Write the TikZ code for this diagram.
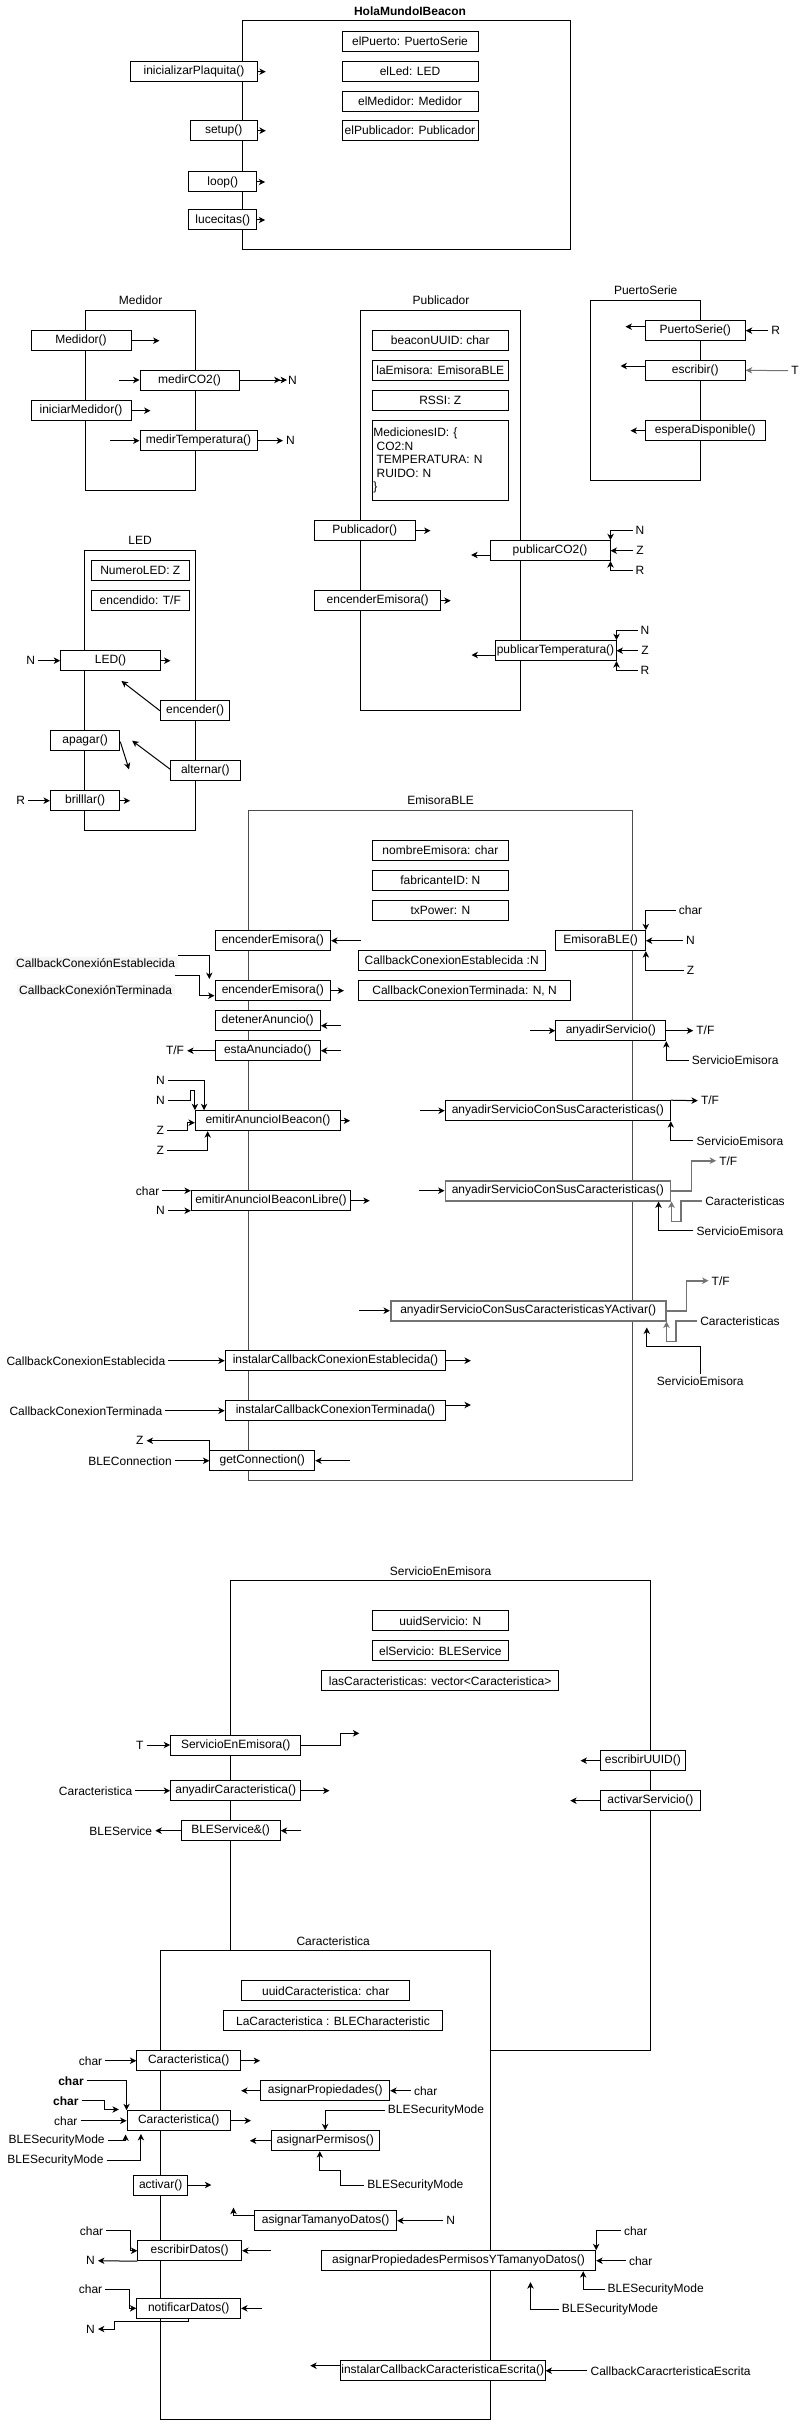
\documentclass[tikz,border=0pt]{standalone}
\usepackage{fontspec}
\setmainfont{Liberation Sans}
\usetikzlibrary{arrows.meta,calc}

\begin{document}
\begin{tikzpicture}[x=0.75pt,y=-0.75pt,line width=0.75pt,font=\fontsize{9}{10.8}\selectfont,
  >={Stealth[length=4.8pt,width=4.8pt,inset=1.4pt]},
  caja/.style={draw,fill=white,minimum height=15pt,inner xsep=0.5pt,inner ysep=0pt},
  ancho/.style={minimum width=#1*0.75pt},
  gris/.style={draw=black!55,line width=1.2pt},
  etiq/.style={inner xsep=2pt,inner ysep=1pt}]
\path[use as bounding box,fill=white] (0,0) rectangle (806,2422);

\node (tHola) at (410,11) {\bfseries HolaMundoIBeacon};
\draw (242,21) rectangle (570,250);
\node[caja,ancho=136] (aPuerto) at (410,41.7) {elPuerto: PuertoSerie};
\node[caja,ancho=136] (aLed) at (410,71.7) {elLed: LED};
\node[caja,ancho=136] (aMedidor) at (410,101.3) {elMedidor: Medidor};
\node[caja,ancho=136] (aPublicador) at (410,130.7) {elPublicador: Publicador};
\node[caja,ancho=126.6] (mInicializar) at (194,71.7) {inicializarPlaquita()};
\node[caja,ancho=67.3] (mSetup) at (223.7,130.7) {setup()};
\node[caja,ancho=67.7] (mLoop) at (222.8,182) {loop()};
\node[caja,ancho=67.7] (mLucecitas) at (222.8,220) {lucecitas()};
\draw[->] (mInicializar.east) -- ++(8,0);
\draw[->] (mSetup.east) -- ++(8,0);
\draw[->] (mLoop.east) -- ++(8,0);
\draw[->] (mLucecitas.east) -- ++(8,0);

\node (tMedidor) at (140.6,300.7) {Medidor};
\draw (85,310.7) rectangle (195.5,490);
\node[caja,ancho=100] (mMedidor) at (81,340.7) {Medidor()};
\node[caja,ancho=99] (mMedirCO2) at (189.5,380) {medirCO2()};
\node[caja,ancho=100] (mIniciar) at (81,410.7) {iniciarMedidor()};
\node[caja,ancho=117] (mMedirTemp) at (198.5,440.7) {medirTemperatura()};
\node[etiq,inner xsep=0.5pt] (lMedN1) at (292.5,380) {N};
\node[etiq] (lMedN2) at (290.5,440.7) {N};
\draw[->] (mMedidor.east) -- ++(28,0);
\draw[->] ($(mMedirCO2.west)+(-20.5,0)$) -- (mMedirCO2.west);
\draw[->>] (mMedirCO2.east) -- (lMedN1.west);
\draw[->] (mIniciar.east) -- ++(19,0);
\draw[->] ($(mMedirTemp.west)+(-29.5,0)$) -- (mMedirTemp.west);
\draw[->] (mMedirTemp.east) -- (lMedN2.west);

\node (tPublicador) at (441,300.7) {Publicador};
\draw (360.3,310.7) rectangle (520.3,710);
\node[caja,ancho=136] (aUUID) at (440.3,340.7) {beaconUUID: char};
\node[caja,ancho=136] (aEmisora) at (440.3,370.7) {laEmisora: EmisoraBLE};
\node[caja,ancho=136] (aRSSI) at (440.3,400.7) {RSSI: Z};
\node[caja,text width=100.5pt,inner xsep=0.75pt,minimum height=60pt,align=left,font=\fontsize{9}{10.1}\selectfont] (aMediciones) at (440.3,460.7) {MedicionesID: \{\\\hspace{2.5pt}CO2:N\\\hspace{2.5pt}TEMPERATURA: N\\\hspace{2.5pt}RUIDO: N\\\}};
\node[caja,ancho=100.7] (mPublicador) at (364.7,530.7) {Publicador()};
\node[caja,ancho=126] (mEncEmi) at (377.7,600.7) {encenderEmisora()};
\node[caja,ancho=120] (mPubCO2) at (550,550.7) {publicarCO2()};
\node[caja,ancho=121] (mPubTemp) at (555.5,650.7) {publicarTemperatura()};
\node[etiq] (lCO2N) at (640,530.7) {N};
\node[etiq] (lCO2Z) at (640,550.7) {Z};
\node[etiq] (lCO2R) at (640,570.7) {R};
\node[etiq] (lTempN) at (645,630.7) {N};
\node[etiq] (lTempZ) at (645,650.7) {Z};
\node[etiq] (lTempR) at (645,670.7) {R};
\draw[->] (mPublicador.east) -- ++(15,0);
\draw[->] (mEncEmi.east) -- ++(9.5,0);
\draw[->] ($(mPubCO2.west)+(0,4.3)$) -- ++(-18.3,0);
\draw[->] (lCO2N.west) -| (mPubCO2.north east);
\draw[->] (lCO2Z.west) -- (mPubCO2.east);
\draw[->] (lCO2R.west) -| (mPubCO2.south east);
\draw[->] ($(mPubTemp.west)+(0,4.3)$) -- ++(-23,0);
\draw[->] (lTempN.west) -| (mPubTemp.north east);
\draw[->] (lTempZ.west) -- (mPubTemp.east);
\draw[->] (lTempR.west) -| (mPubTemp.south east);

\node (tPuerto) at (645.7,290.7) {PuertoSerie};
\draw (590.3,300.7) rectangle (700.3,480.7);
\node[caja,ancho=100] (mPuerto) at (695.3,330.7) {PuertoSerie()};
\node[caja,ancho=100] (mEscribir) at (695.3,370.3) {escribir()};
\node[caja,ancho=120] (mEspera) at (705.3,430.7) {esperaDisponible()};
\node[etiq] (lPuertoR) at (775.7,330.7) {R};
\node[etiq] (lEscT) at (795,370.7) {T};
\draw[->] ($(mPuerto.west)+(0,-4)$) -- ++(-19.3,0);
\draw[->] (lPuertoR.west) -- (mPuerto.east);
\draw[->] ($(mEscribir.west)+(0,-4.3)$) -- ++(-24.3,0);
\draw[->,draw=black!55] (lEscT.west) -- (mEscribir.east);
\draw[->] (mEspera.west) -- ++(-14.3,0);

\node (tLED) at (140,540.7) {LED};
\draw (84.8,550.7) rectangle (195.4,830.7);
\node[caja,ancho=97.7] (aNumero) at (140.3,570.7) {NumeroLED: Z};
\node[caja,ancho=97.7] (aEncendido) at (140.3,600.7) {encendido: T/F};
\node[caja,ancho=99.7] (mLED) at (110.5,660.7) {LED()};
\node[caja,ancho=69.4] (mEncender) at (195.1,710.7) {encender()};
\node[caja,ancho=69.4] (mApagar) at (85.1,740.7) {apagar()};
\node[caja,ancho=69.3] (mAlternar) at (205.4,770.7) {alternar()};
\node[caja,ancho=69.4] (mBrillar) at (85.1,800.7) {brilllar()};
\node[etiq] (lLedN) at (30.8,660.7) {N};
\node[etiq] (lBrillarR) at (20.6,800.7) {R};
\draw[->] (lLedN.east) -- (mLED.west);
\draw[->] (mLED.east) -- ++(9.6,0);
\draw[->] (mEncender.west) -- ++(-38.4,-29.7);
\draw[->] ($(mApagar.east)+(0,1)$) -- ++(8.7,27.6);
\draw[->] ($(mAlternar.west)+(0,-1.4)$) -- ++(-38.1,-28.6);
\draw[->] (lBrillarR.east) -- (mBrillar.west);
\draw[->] (mBrillar.east) -- ++(9.8,0);

\node (tEmisora) at (440.6,800.7) {EmisoraBLE};
\draw[draw=black!70,line width=1pt] (248.3,810.7) rectangle (632.4,1480.7);
\node[caja,ancho=135.2] (aNombre) at (440.4,850.7) {nombreEmisora: char};
\node[caja,ancho=135.2] (aFabricante) at (440.4,880.7) {fabricanteID: N};
\node[caja,ancho=135.2] (aTxPower) at (440.4,910.7) {txPower: N};
\node[caja,ancho=186.6] (aCCE) at (451.7,960.7) {CallbackConexionEstablecida :N};
\node[caja,ancho=212.3] (aCCT) at (464.6,990.7) {CallbackConexionTerminada: N, N};
\node[caja,ancho=115.6] (mEncE1) at (272.8,940.7) {encenderEmisora()};
\node[caja,ancho=115.6] (mEncE2) at (272.8,990.7) {encenderEmisora()};
\node[etiq,fill=black!4] (lCCEst) at (95.6,962.7) {CallbackConexiónEstablecida};
\node[etiq,fill=black!4] (lCCTer) at (95.6,990) {CallbackConexiónTerminada};
\draw[->] ($(mEncE1.east)+(29.4,0)$) -- (mEncE1.east);
\draw[->] (mEncE2.east) -- ++(12.9,0);
\draw[->] ($(lCCEst.east)+(0,-7)$) -| ($(mEncE2.north west)+(-5.2,-1.2)$);
\draw[->] ($(lCCTer.east)+(0,-15)$) -| ($(mEncE2.west)+(-15.5,5)$) -- ($(mEncE2.west)+(0,5)$);
\node[caja,ancho=105.3] (mDetener) at (267.7,1020.7) {detenerAnuncio()};
\node[caja,ancho=105.3] (mEsta) at (267.7,1050.7) {estaAnunciado()};
\node[etiq] (lEstaTF) at (175,1050.7) {T/F};
\draw[->] ($(mDetener.east)+(20,5)$) -- ($(mDetener.east)+(0,5)$);
\draw[->] ($(mEsta.east)+(20,0)$) -- (mEsta.east);
\draw[->] (mEsta.west) -- (lEstaTF.east);
\node[caja,ancho=89.5] (mEmisoraBLE) at (600.6,940.7) {EmisoraBLE()};
\node[etiq] (lEmiChar) at (690.5,910.7) {char};
\node[etiq] (lEmiN) at (690.5,940.7) {N};
\node[etiq] (lEmiZ) at (690.5,970.7) {Z};
\draw[->] (lEmiChar.west) -| (mEmisoraBLE.north east);
\draw[->] (lEmiN.west) -- (mEmisoraBLE.east);
\draw[->] (lEmiZ.west) -| (mEmisoraBLE.south east);
\node[caja,ancho=110] (mAnyadir) at (610.8,1030.7) {anyadirServicio()};
\node[etiq] (lAnyTF) at (705.4,1030.7) {T/F};
\node[etiq] (lAnyServ) at (735.2,1060.7) {ServicioEmisora};
\draw[->] ($(mAnyadir.west)+(-25.2,0)$) -- (mAnyadir.west);
\draw[->] (mAnyadir.east) -- (lAnyTF.west);
\draw[->] (lAnyServ.west) -| (mAnyadir.south east);
\node[caja,ancho=145] (mEmitir) at (267.9,1120.7) {emitirAnuncioIBeacon()};
\node[etiq] (lEmiN1) at (160.4,1080.7) {N};
\node[etiq] (lEmiN2) at (160.4,1100.7) {N};
\node[etiq] (lEmiZ1) at (160.4,1130.7) {Z};
\node[etiq] (lEmiZ2) at (160.4,1150.7) {Z};
\draw[->] (mEmitir.east) -- ++(9.2,0);
\draw[->] (lEmiN1.east) -| ($(mEmitir.north west)+(9.2,0)$);
\draw[->] (lEmiN2.east) -| ($(mEmitir.north west)+(-4.1,-20)$) -| (mEmitir.north west);
\draw[->] (lEmiZ1.east) -| ($(mEmitir.west)+(-7,2)$) -- ($(mEmitir.west)+(0,2)$);
\draw[->] (lEmiZ2.east) -| ($(mEmitir.south west)+(12.8,0)$);
\node[caja,ancho=159.3] (mEmitirLibre) at (271,1200.7) {emitirAnuncioIBeaconLibre()};
\node[etiq] (lLibreChar) at (147.6,1190.7) {char};
\node[etiq] (lLibreN) at (160.4,1210.7) {N};
\draw[->] (mEmitirLibre.east) -- ++(18.6,0);
\draw[->] (lLibreChar.east) -- (lLibreChar.east -| mEmitirLibre.west);
\draw[->] (lLibreN.east) -- (lLibreN.east -| mEmitirLibre.west);
\node[caja,ancho=225] (mAnyCar1) at (557.8,1110.7) {anyadirServicioConSusCaracteristicas()};
\node[etiq] (lCar1TF) at (710,1100.7) {T/F};
\node[etiq] (lCar1Serv) at (740,1140.7) {ServicioEmisora};
\draw[->] ($(mAnyCar1.west)+(-25.3,0)$) -- (mAnyCar1.west);
\draw[->] (mAnyCar1.north east) -- (lCar1TF.west);
\draw[->] (lCar1Serv.west) -| (mAnyCar1.south east);
\node[caja,gris,ancho=225] (mAnyCar2) at (557.8,1190.7) {anyadirServicioConSusCaracteristicas()};
\node[etiq] (lCar2TF) at (728.3,1160.7) {T/F};
\node[etiq] (lCar2Car) at (745,1200.7) {Caracteristicas};
\node[etiq] (lCar2Serv) at (740,1230.7) {ServicioEmisora};
\draw[->] ($(mAnyCar2.west)+(-25.3,0)$) -- (mAnyCar2.west);
\draw[->,gris] (mAnyCar2.east) -| ($(mAnyCar2.east)+(20.4,-30)$) -- (lCar2TF.west);
\draw[->,gris] (lCar2Car.west) -| ($(mAnyCar2.south east)+(9.7,20)$) -| ($(mAnyCar2.south east)+(0.4,0)$);
\draw[->] (lCar2Serv.west) -| ($(mAnyCar2.south east)+(-12.6,0)$);
\node[caja,gris,ancho=275] (mAnyAct) at (528.2,1310.7) {anyadirServicioConSusCaracteristicasYActivar()};
\node[etiq] (lActTF) at (720.7,1280.7) {T/F};
\node[etiq] (lActCar) at (740,1320.7) {Caracteristicas};
\node[etiq] (lActServ) at (700.3,1380.7) {ServicioEmisora};
\draw[->] ($(mAnyAct.west)+(-30.7,0)$) -- (mAnyAct.west);
\draw[->,gris] (mAnyAct.east) -| ($(mAnyAct.east)+(20,-30)$) -- (lActTF.west);
\draw[->,gris] (lActCar.west) -| ($(mAnyAct.south east)+(9.3,20)$) -| (mAnyAct.south east);
\draw[->] (lActServ.north) |- ($(mAnyAct.south east)+(-19.7,25)$) -- ($(mAnyAct.south east)+(-19.7,6)$);
\node[caja,ancho=220.6] (mInstCE) at (335.5,1360.7) {instalarCallbackConexionEstablecida()};
\node[caja,ancho=220.6] (mInstCT) at (335.5,1410.7) {instalarCallbackConexionTerminada()};
\node[etiq] (lInstCE) at (85.9,1360.7) {CallbackConexionEstablecida};
\node[etiq] (lInstCT) at (85.9,1410.7) {CallbackConexionTerminada};
\draw[->] (lInstCE.east) -- (mInstCE.west);
\draw[->] (mInstCE.east) -- ++(24.6,0);
\draw[->] (lInstCT.east) -- (mInstCT.west);
\draw[->] ($(mInstCT.east)+(0,-5.7)$) -- ++(24.6,0);
\node[caja,ancho=104.9] (mGetConn) at (262.3,1460.7) {getConnection()};
\node[etiq] (lConnZ) at (139.8,1440.7) {Z};
\node[etiq] (lConnBLE) at (130,1460.7) {BLEConnection};
\draw[->] ($(mGetConn.east)+(34.9,0)$) -- (mGetConn.east);
\draw[->] (mGetConn.north west) |- (lConnZ.east);
\draw[->] (lConnBLE.east) -- (mGetConn.west);

\node (tServicio) at (440.6,1570.7) {ServicioEnEmisora};
\draw (230.3,1580.7) rectangle (650.4,2050);
\node[caja,ancho=135.2] (aUuidServ) at (440.4,1620.7) {uuidServicio: N};
\node[caja,ancho=135.2] (aElServ) at (440.4,1650.7) {elServicio: BLEService};
\node[caja,ancho=237.6] (aLasCar) at (440.1,1680.7) {lasCaracteristicas: vector<Caracteristica>};
\node[caja,ancho=130.1] (mServEn) at (235.7,1745) {ServicioEnEmisora()};
\node[caja,ancho=130.1] (mAnyCarac) at (235.7,1790.7) {anyadirCaracteristica()};
\node[caja,ancho=99.2] (mBLEServ) at (230.6,1830.7) {BLEService\&()};
\node[caja,ancho=84.8] (mEscUUID) at (642.9,1760.7) {escribirUUID()};
\node[caja,ancho=99.8] (mActServ) at (650.4,1800.7) {activarServicio()};
\node[etiq] (lServT) at (139.8,1745) {T};
\node[etiq] (lServCar) at (95.6,1790.7) {Caracteristica};
\node[etiq] (lServBLE) at (120.8,1830.7) {BLEService};
\draw[->] (lServT.east) -- (mServEn.west);
\draw[->] (mServEn.east) -| ($(mServEn.east)+(39.6,-11.7)$) -- ++(18.5,0);
\draw[->] (lServCar.east) -- (mAnyCarac.west);
\draw[->] (mAnyCarac.east) -- ++(28.2,0);
\draw[->] (mBLEServ.west) -- (lServBLE.east);
\draw[->] ($(mBLEServ.east)+(20.6,0)$) -- (mBLEServ.east);
\draw[->] (mEscUUID.west) -- ++(-19.5,0);
\draw[->] (mActServ.west) -- ++(-29.8,0);

\node (tCaract) at (333.2,1940.7) {Caracteristica};
\draw[fill=white] (160.4,1950.7) rectangle (490.7,2419);
\node[caja,ancho=168.2] (aUuidCar) at (325.7,1990.7) {uuidCaracteristica: char};
\node[caja,ancho=218.5] (aLaCar) at (333,2020.7) {LaCaracteristica : BLECharacteristic};
\node[caja,ancho=103.8] (mCar1) at (188.7,2060.7) {Caracteristica()};
\node[caja,ancho=129] (mAsigProp) at (325.2,2090.7) {asignarPropiedades()};
\node[caja,ancho=103.3] (mCar2) at (178.7,2120.7) {Caracteristica()};
\node[caja,ancho=108.4] (mAsigPerm) at (325.2,2140.7) {asignarPermisos()};
\node[caja,ancho=54] (mActivar) at (160.7,2185) {activar()};
\node[caja,ancho=142.2] (mAsigTam) at (325.6,2220.7) {asignarTamanyoDatos()};
\node[caja,ancho=103.8] (mEscDatos) at (189.7,2250.7) {escribirDatos()};
\node[caja,ancho=274.4] (mAsigPPT) at (458.5,2260.7) {asignarPropiedadesPermisosYTamanyoDatos()};
\node[caja,ancho=103.8] (mNotif) at (188.7,2308.3) {notificarDatos()};
\node[caja,ancho=204.7] (mInstCar) at (442.7,2370.7) {instalarCallbackCaracteristicaEscrita()};
\node[etiq] (lCar1c) at (90.5,2060.7) {char};
\node[etiq] (lPropc) at (425.7,2090.7) {char};
\node[etiq] (lCar2c1) at (71,2080.7) {\bfseries char};
\node[etiq] (lCar2c2) at (65.8,2100.7) {\bfseries char};
\node[etiq] (lCar2c3) at (65.8,2120.7) {char};
\node[etiq] (lCar2b1) at (56.6,2140.7) {BLESecurityMode};
\node[etiq] (lCar2b2) at (55.5,2160.7) {BLESecurityMode};
\node[etiq] (lPermb1) at (436,2110.7) {BLESecurityMode};
\node[etiq] (lPermb2) at (415.4,2185.7) {BLESecurityMode};
\node[etiq] (lTamN) at (450.7,2220.7) {N};
\node[etiq] (lEscc) at (91.5,2230.7) {char};
\node[etiq] (lEscN) at (90.5,2260.7) {N};
\node[etiq] (lNotc) at (90.5,2289) {char};
\node[etiq] (lNotN) at (90.5,2329) {N};
\node[etiq] (lPPTc1) at (635.7,2230.7) {char};
\node[etiq] (lPPTc2) at (640.7,2260.7) {char};
\node[etiq] (lPPTb1) at (655.7,2289) {BLESecurityMode};
\node[etiq] (lPPTb2) at (610,2309) {BLESecurityMode};
\node[etiq] (lInstCar) at (670.6,2370.7) {CallbackCaracrteristicaEscrita};
\draw[->] (lCar1c.east) -- (mCar1.west);
\draw[->] (mCar1.east) -- ++(19,0);
\draw[->] (mAsigProp.west) -- ++(-19.1,0);
\draw[->] (lPropc.west) -- (mAsigProp.east);
\draw[->] (lCar2c1.east) -| (mCar2.north west);
\draw[->] (lCar2c2.east) -| ($(mCar2.north west)+(-21.6,-0.7)$) -- ($(mCar2.north west)+(-7.7,-0.7)$);
\draw[->] (lCar2c3.east) -- (mCar2.west);
\draw[->] (lCar2b1.east) -| ($(mCar2.south west)+(-1,3.3)$);
\draw[->] (lCar2b2.east) -| ($(mCar2.south west)+(14.4,2.8)$);
\draw[->] (mCar2.east) -- ++(20.1,0);
\draw[->] (mAsigPerm.west) -- ++(-20.6,0);
\draw[->] (lPermb1.west) -| (mAsigPerm.north);
\draw[->] (lPermb2.west) -| ($(mAsigPerm.south)+(15.2,19.3)$) -| ($(mAsigPerm.south)+(-5.4,0)$);
\draw[->] (mActivar.east) -- ++(23.1,0);
\draw[->] (lTamN.west) -- (mAsigTam.east);
\draw[->] ($(mAsigTam.west)+(0,-5)$) -| ++(-20.5,-8);
\draw[->] ($(mEscDatos.east)+(28.4,0)$) -- (mEscDatos.east);
\draw[->] (lEscc.east) -| ($(mEscDatos.west)+(-6.7,0)$) -- (mEscDatos.west);
\draw[->] (mEscDatos.south west) -- (lEscN.east);
\draw[->] ($(mNotif.east)+(20.6,0)$) -- (mNotif.east);
\draw[->] (lNotc.east) -| ($(mNotif.west)+(-6.5,0)$) -- (mNotif.west);
\draw[->] (mNotif.south) -- ++(0,2.4) -| ($(lNotN.east)+(16.5,0)$) -- (lNotN.east);
\draw[->] (lPPTc1.west) -| (mAsigPPT.north east);
\draw[->] (lPPTc2.west) -- (mAsigPPT.east);
\draw[->] (lPPTb1.west) -| ($(mAsigPPT.south east)+(-13,0)$);
\draw[->] (lPPTb2.west) -| ($(mAsigPPT.south east)+(-65.7,11)$);
\draw[->] ($(mInstCar.west)+(0,-5)$) -- ++(-29.6,0);
\draw[->] (lInstCar.west) -- (mInstCar.east);
\end{tikzpicture}
\end{document}
